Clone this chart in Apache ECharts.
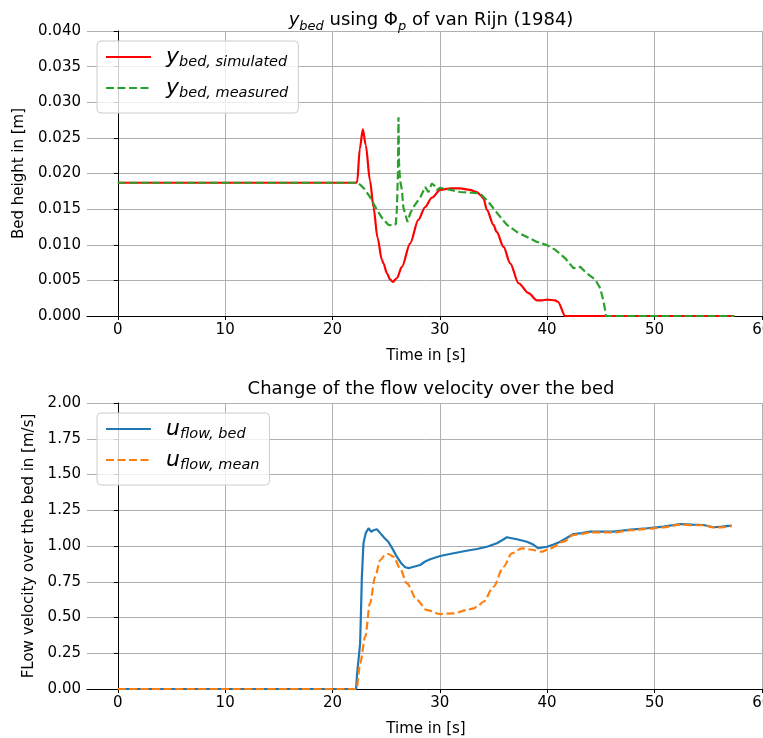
<!DOCTYPE html>
<html>
<head>
<meta charset="utf-8">
<script src="https://cdn.jsdelivr.net/npm/echarts@6/dist/echarts.min.js"></script>
<style>
  html, body { margin: 0; padding: 0; background: #fff; overflow: hidden; }
  #chart { width: 763px; height: 738px; }
</style>
</head>
<body>
<div id="chart"></div>
<script>
// Bed height: simulated (van Rijn 1984 pick-up) vs measured
const bedSimT = [0, 22.2, 22.3, 22.55, 22.83, 23.1, 23.5, 23.82, 24.2, 24.6, 24.75, 25.07, 25.38, 25.63, 26.0, 26.47, 27.24, 28.0, 28.64, 29.26, 30.04, 30.97, 31.9, 32.8, 33.46, 33.77, 34.07, 34.39, 35.0, 35.3, 35.94, 36.56, 37.34, 38.27, 39.05, 39.5, 40.0, 40.75, 41.0, 41.69, 57.45];
const bedSimV = [0.0187, 0.0187, 0.0188, 0.0235, 0.0262, 0.0240, 0.0190, 0.0153, 0.0110, 0.0079, 0.0074, 0.0060, 0.0051, 0.0048, 0.0053, 0.0069, 0.0102, 0.0135, 0.0153, 0.0166, 0.0177, 0.0179, 0.0179, 0.0177, 0.0174, 0.0170, 0.0165, 0.0149, 0.0128, 0.0118, 0.0097, 0.0074, 0.0046, 0.0032, 0.0022, 0.0022, 0.0023, 0.0022, 0.0020, 0.0000, 0.0000];

const bedMeasT = [0, 22.3, 22.6, 23.0, 23.5, 24.14, 24.6, 25.2, 25.7, 25.9, 26.0, 26.1, 26.15, 26.2, 26.3, 26.47, 26.6, 26.99, 27.24, 27.55, 28.2, 28.64, 28.95, 29.26, 29.5, 29.73, 30.04, 31.0, 31.9, 33.0, 33.77, 34.54, 35.47, 36.25, 37.18, 38.12, 39.05, 39.98, 40.75, 41.69, 42.46, 43.08, 43.7, 44.48, 44.95, 45.26, 45.5, 57.45];
const bedMeasV = [0.0187, 0.0187, 0.0184, 0.0178, 0.0167, 0.0149, 0.0138, 0.0128, 0.0127, 0.0129, 0.0149, 0.0200, 0.0279, 0.0215, 0.0190, 0.0177, 0.0153, 0.0132, 0.0144, 0.0153, 0.0167, 0.0181, 0.0174, 0.0186, 0.0183, 0.0177, 0.0180, 0.0177, 0.0174, 0.0173, 0.0172, 0.0160, 0.0142, 0.0128, 0.0118, 0.0111, 0.0104, 0.00995, 0.0093, 0.0081, 0.0067, 0.0069, 0.0060, 0.0051, 0.0039, 0.0020, 0.0000, 0.0000];

// Flow velocity near the bed and cross-section mean
const flowBedT = [0, 22.2, 22.3, 22.58, 22.74, 22.89, 23.1, 23.36, 23.6, 23.82, 24.14, 24.45, 24.8, 25.2, 25.6, 26.0, 26.4, 26.78, 27.1, 27.4, 28.17, 28.6, 29.1, 30.04, 31.28, 32.5, 33.46, 34.39, 35.32, 35.8, 36.25, 37.18, 38.12, 38.7, 39.2, 39.98, 40.6, 41.22, 42.46, 43.2, 44.0, 46.2, 47.8, 49.3, 50.85, 52.4, 53.5, 54.58, 55.5, 56.3, 57.2];
const flowBedV = [0, 0, 0.11, 0.32, 0.785, 1.02, 1.09, 1.124, 1.10, 1.11, 1.117, 1.09, 1.06, 1.03, 0.98, 0.925, 0.88, 0.851, 0.845, 0.851, 0.867, 0.89, 0.907, 0.93, 0.949, 0.967, 0.979, 0.995, 1.019, 1.04, 1.061, 1.047, 1.03, 1.01, 0.984, 0.995, 1.01, 1.03, 1.084, 1.09, 1.10, 1.10, 1.115, 1.124, 1.135, 1.154, 1.15, 1.147, 1.131, 1.135, 1.142];

const flowMeanT = [0, 22.2, 22.27, 22.58, 23.05, 23.5, 23.98, 24.45, 24.9, 25.2, 25.7, 26.3, 26.93, 27.87, 28.8, 30.04, 31.28, 32.5, 33.14, 33.46, 34.07, 35.0, 35.94, 36.72, 37.65, 38.73, 39.5, 40.3, 41.53, 42.46, 43.2, 44.0, 46.2, 47.8, 49.3, 50.85, 52.4, 53.5, 54.58, 55.5, 56.3, 57.2];
const flowMeanV = [0, 0, 0.016, 0.18, 0.366, 0.60, 0.785, 0.902, 0.935, 0.944, 0.925, 0.844, 0.739, 0.622, 0.552, 0.524, 0.529, 0.552, 0.564, 0.575, 0.61, 0.715, 0.855, 0.949, 0.984, 0.972, 0.96, 0.984, 1.03, 1.077, 1.085, 1.095, 1.095, 1.11, 1.12, 1.13, 1.15, 1.145, 1.145, 1.13, 1.13, 1.14];

const timeTicks = [0, 10, 20, 30, 40, 50, 60];

const zip = (t, v) => t.map((x, i) => [x, v[i]]);

const FONT = 'DejaVu Sans';
const TXT = '#000';
const GRIDC = '#b0b0b0';

function xAxisFor(grid) {
  return {
    type: 'value', gridIndex: grid, min: -2.87, max: 60.3,
    name: 'Time in [s]', nameLocation: 'middle', nameGap: 33,
    nameTextStyle: { fontFamily: FONT, fontSize: 15, color: TXT },
    axisLine: { show: true, onZero: false, lineStyle: { color: '#000', width: 1 } },
    axisTick: { show: true, length: 4, customValues: timeTicks, lineStyle: { color: '#000', width: 1 } },
    axisLabel: { customValues: timeTicks, fontFamily: FONT, fontSize: 15, color: TXT, margin: 7 },
    splitLine: { show: true, lineStyle: { color: GRIDC, width: 1 } }
  };
}

function yAxisFor(grid, max, interval, digits, name, gap) {
  return {
    type: 'value', gridIndex: grid, min: 0, max: max, interval: interval,
    name: name, nameLocation: 'middle', nameGap: gap, nameRotate: 90,
    nameTextStyle: { fontFamily: FONT, fontSize: 15, color: TXT },
    axisLine: { show: true, lineStyle: { color: '#000', width: 1 } },
    axisTick: { show: true, length: 4, lineStyle: { color: '#000', width: 1 } },
    axisLabel: { fontFamily: FONT, fontSize: 15, color: TXT, margin: 6, formatter: v => v.toFixed(digits) },
    splitLine: { show: true, lineStyle: { color: GRIDC, width: 1 } }
  };
}

const mathRich = {
  m: { fontFamily: FONT, fontStyle: 'italic', fontSize: 22, color: TXT, verticalAlign: 'middle', lineHeight: 26, padding: [0, 0, 0, 10] },
  s: { fontFamily: FONT, fontStyle: 'italic', fontSize: 14.5, color: TXT, verticalAlign: 'bottom', lineHeight: 22 }
};

const legendLabels = {
  'sim': '{m|y}{s|bed, simulated}',
  'meas': '{m|y}{s|bed, measured}',
  'ubed': '{m|u}{s|flow, bed}',
  'umean': '{m|u}{s|flow, mean}'
};

function legendFor(items, top) {
  return {
    data: items, orient: 'vertical', left: 97, top: top,
    itemWidth: 45, itemHeight: 14, itemGap: 7,
    padding: [5, 10, 12, 8],
    backgroundColor: 'rgba(255,255,255,0.8)', borderColor: '#cccccc', borderWidth: 1, borderRadius: 4,
    itemStyle: { color: 'rgba(0,0,0,0)', borderWidth: 0 },
    formatter: n => legendLabels[n],
    textStyle: { rich: mathRich }
  };
}

const titleRich = {
  n: { fontFamily: FONT, fontSize: 18, fontWeight: 'normal', color: TXT, verticalAlign: 'middle' },
  i: { fontFamily: FONT, fontSize: 18, fontWeight: 'normal', fontStyle: 'italic', color: TXT, verticalAlign: 'middle' },
  sub: { fontFamily: FONT, fontSize: 13, fontWeight: 'normal', fontStyle: 'italic', color: TXT, verticalAlign: 'bottom', lineHeight: 26 }
};

const chart = echarts.init(document.getElementById('chart'), null, { renderer: 'canvas' });
chart.setOption({
  animation: false,
  backgroundColor: '#fff',
  title: [
    { text: '{i|y}{sub|bed}{n| using Φ}{sub|p}{n| of van Rijn (1984)}', left: 426, top: 2, textAlign: 'center',
      textStyle: { fontWeight: 'normal', rich: titleRich } },
    { text: 'Change of the flow velocity over the bed', left: 426, top: 375, textAlign: 'center',
      textStyle: { fontFamily: FONT, fontSize: 18, fontWeight: 'normal', color: TXT } }
  ],
  grid: [
    { left: 87, width: 678, top: 31, height: 285, outerBoundsMode: 'none' },
    { left: 87, width: 678, top: 403, height: 286, outerBoundsMode: 'none' }
  ],
  xAxis: [xAxisFor(0), xAxisFor(1)],
  yAxis: [
    yAxisFor(0, 0.04, 0.005, 3, 'Bed height in [m]', 60),
    yAxisFor(1, 2.0, 0.25, 2, 'FLow velocity over the bed in [m/s]', 50)
  ],
  legend: [
    legendFor(['sim', 'meas'], 41),
    legendFor(['ubed', 'umean'], 413)
  ],
  series: [
    { name: 'sim', type: 'line', xAxisIndex: 0, yAxisIndex: 0, data: zip(bedSimT, bedSimV),
      symbol: 'none', smooth: 0.3, smoothMonotone: 'x', color: '#ff0000', lineStyle: { color: '#ff0000', width: 2.2 } },
    { name: 'meas', type: 'line', xAxisIndex: 0, yAxisIndex: 0, data: zip(bedMeasT, bedMeasV),
      symbol: 'none', color: '#2ca02c', lineStyle: { color: '#2ca02c', width: 2.2, type: [8, 3.5] } },
    { name: 'ubed', type: 'line', xAxisIndex: 1, yAxisIndex: 1, data: zip(flowBedT, flowBedV),
      symbol: 'none', color: '#1f77b4', lineStyle: { color: '#1f77b4', width: 2.2 } },
    { name: 'umean', type: 'line', xAxisIndex: 1, yAxisIndex: 1, data: zip(flowMeanT, flowMeanV),
      symbol: 'none', smooth: 0.3, smoothMonotone: 'x', color: '#ff7f0e', lineStyle: { color: '#ff7f0e', width: 2.2, type: [8, 3.5] } }
  ]
});
</script>
</body>
</html>
